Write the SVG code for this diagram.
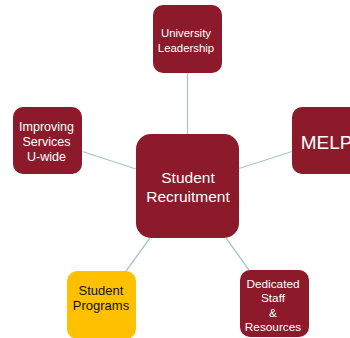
<svg xmlns="http://www.w3.org/2000/svg" width="350" height="338" viewBox="0 0 350 338">
  <style>
    .box { fill: #8C1A2A; }
    .gold { fill: #FFC000; }
    .t { font-family: "Liberation Sans", Arial, sans-serif; fill: #FFFFFF; text-anchor: middle; }
    .dark { fill: #111111; }
    .link { stroke: #A9C6CA; stroke-width: 1.3; fill: none; }
  </style>
  <rect width="350" height="338" fill="#FFFFFF"/>
  <g id="connectors">
    <line class="link" x1="187.5" y1="73" x2="187.5" y2="134"/>
    <line class="link" x1="82.5" y1="151.5" x2="136" y2="169"/>
    <line class="link" x1="239" y1="168.5" x2="292" y2="151.5"/>
    <line class="link" x1="150" y1="238" x2="126" y2="271"/>
    <line class="link" x1="226" y1="238" x2="249" y2="270"/>
  </g>
  <g id="university-leadership">
    <rect class="box" x="153" y="5" width="69" height="68" rx="10"/>
    <text class="t" x="186" y="37" font-size="11.4">University</text>
    <text class="t" x="186" y="51.5" font-size="11.4">Leadership</text>
  </g>
  <g id="improving-services">
    <rect class="box" x="13" y="107" width="69" height="67" rx="10"/>
    <text class="t" x="46.5" y="130.5" font-size="12.5">Improving</text>
    <text class="t" x="46.5" y="145.5" font-size="12.5">Services</text>
    <text class="t" x="46.5" y="160.5" font-size="12.5">U-wide</text>
  </g>
  <g id="melp">
    <rect class="box" x="292" y="107" width="69" height="67" rx="10"/>
    <text class="t" x="326.5" y="148.5" font-size="19">MELP</text>
  </g>
  <g id="student-recruitment">
    <rect class="box" x="136" y="134" width="103" height="104" rx="15"/>
    <text class="t" x="188" y="182.5" font-size="15.5">Student</text>
    <text class="t" x="188" y="202" font-size="15.5">Recruitment</text>
  </g>
  <g id="student-programs">
    <rect class="gold" x="67" y="271" width="69" height="68" rx="10"/>
    <text class="t dark" x="101" y="295" font-size="13">Student</text>
    <text class="t dark" x="101" y="309.5" font-size="13">Programs</text>
  </g>
  <g id="dedicated-staff">
    <rect class="box" x="240" y="270" width="69" height="67" rx="10"/>
    <text class="t" x="273" y="288" font-size="11.8">Dedicated</text>
    <text class="t" x="273" y="302" font-size="11.8">Staff</text>
    <text class="t" x="273" y="317" font-size="11.8">&amp;</text>
    <text class="t" x="273" y="331" font-size="11.8">Resources</text>
  </g>
</svg>
